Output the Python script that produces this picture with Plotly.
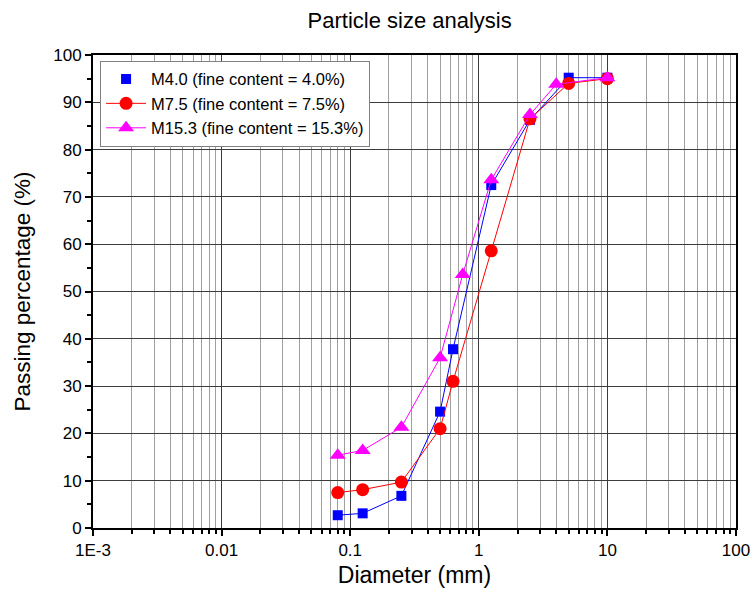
import plotly.graph_objects as go

# Data (diameter in mm, passing percentage in %)
d_m40 = [0.08, 0.125, 0.25, 0.5, 0.63, 1.25, 2.5, 5, 10]
p_m40 = [2.7, 3.1, 6.8, 24.6, 37.8, 72.5, 86.3, 95.2, 95.2]

d_m75 = [0.08, 0.125, 0.25, 0.5, 0.63, 1.25, 2.5, 5, 10]
p_m75 = [7.5, 8.1, 9.7, 21.0, 31.0, 58.6, 86.5, 94.0, 95.0]

d_m153 = [0.08, 0.125, 0.25, 0.5, 0.75, 1.25, 2.5, 4, 10]
p_m153 = [15.4, 16.4, 21.3, 36.0, 53.6, 73.6, 87.4, 93.8, 95.2]

names = ["M4.0 (fine content = 4.0%)", "M7.5 (fine content = 7.5%)", "M15.3 (fine content = 15.3%)"]

x_tickvals = [0.001, 0.01, 0.1, 1, 10, 100]
x_ticktext = ["1E-3", "0.01", "0.1", "1", "10", "100"]

font_family = "Liberation Sans, Arial, sans-serif"

fig = go.Figure()

# M4.0: line (no legend) + markers (legend shows marker only)
fig.add_trace(go.Scatter(x=d_m40, y=p_m40, mode="lines", showlegend=False,
                         line=dict(color="#0000ff", width=1), hoverinfo="skip"))
fig.add_trace(go.Scatter(x=d_m40, y=p_m40, mode="markers", name=names[0],
                         marker=dict(symbol="square", size=10, color="#0000ff")))
fig.add_trace(go.Scatter(x=d_m75, y=p_m75, mode="lines+markers", name=names[1],
                         line=dict(color="#ff0000", width=1),
                         marker=dict(symbol="circle", size=13, color="#ff0000")))
fig.add_trace(go.Scatter(x=d_m153, y=p_m153, mode="lines+markers", name=names[2],
                         line=dict(color="#ff00ff", width=1),
                         marker=dict(symbol="triangle-up", size=14, color="#ff00ff")))

minor_vals = [m * 10 ** k for k in range(-3, 2) for m in range(2, 10)]

fig.update_layout(
    width=753, height=603,
    margin=dict(l=93, r=17, t=55, b=75),
    paper_bgcolor="white", plot_bgcolor="white",
    font=dict(family=font_family, size=17, color="black"),
    title=dict(text="Particle size analysis", x=0.544, xanchor="center",
               y=0.967, yanchor="middle", font=dict(size=22)),
    legend=dict(x=0.011, y=0.988, xanchor="left", yanchor="top",
                bordercolor="#808080", borderwidth=1, bgcolor="white",
                font=dict(size=16.5), tracegroupgap=0, itemwidth=40),
    showlegend=True,
)

fig.update_xaxes(
    type="log", range=[-3, 2], automargin=False,
    tickvals=x_tickvals, ticktext=x_ticktext,
    ticks="outside", ticklen=6, tickwidth=1.5, tickcolor="black",
    showline=True, linecolor="black", linewidth=2, mirror=True,
    showgrid=True, gridcolor="#3c3c3c", gridwidth=1,
    minor=dict(tickvals=minor_vals, ticks="outside", ticklen=4, tickcolor="black",
               showgrid=True, gridcolor="#a0a0a0", gridwidth=1),
    title=dict(text="Diameter (mm)", font=dict(size=23), standoff=7),
    tickfont=dict(size=17), zeroline=False,
)

fig.update_yaxes(
    range=[0, 100], dtick=10, tick0=0, automargin=False,
    ticks="outside", ticklen=6, tickwidth=1.5, tickcolor="black",
    showline=True, linecolor="black", linewidth=2, mirror=True,
    showgrid=True, gridcolor="#3c3c3c", gridwidth=1,
    minor=dict(dtick=5, ticks="outside", ticklen=4, tickcolor="black", showgrid=False),
    title=dict(text="Passing percentage (%)", font=dict(size=22.5), standoff=16),
    tickfont=dict(size=17), zeroline=False,
)

fig.write_html("out.html", config={"displayModeBar": False},
               post_script="document.body.style.margin='0';")
